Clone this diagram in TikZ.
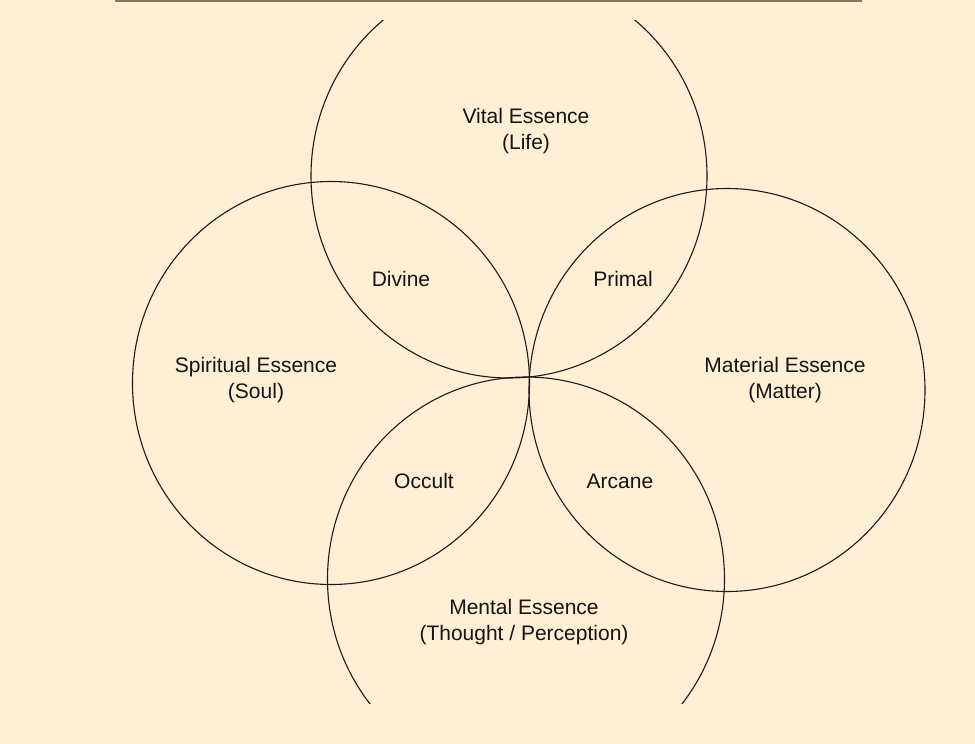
\documentclass[tikz,border=0pt]{standalone}
\usepackage{fontspec}
\setmainfont{Liberation Sans}
\definecolor{bgcream}{HTML}{FFEFD5}
\definecolor{topedge}{HTML}{8A7658}
\definecolor{ringcol}{HTML}{1E1A16}
\definecolor{txtcol}{HTML}{141414}
\begin{document}
\begin{tikzpicture}[x=1pt,y=-1pt,
  ring/.style={draw=ringcol,line width=1.1pt},
  lbl/.style={text=txtcol,align=center,inner sep=0pt,font=\fontsize{21}{26}\selectfont}]
\fill[bgcream] (0,0) rectangle (975,744);
\useasboundingbox (0,0) rectangle (975,744);
\coordinate (tl) at (115,0.8);
\coordinate (tr) at (862,0.8);
\draw[topedge,line width=1.8pt] (tl) -- (tr);
\begin{scope}
\clip (0,20) rectangle (975,703);
\draw[ring] (509,176) ellipse [x radius=198pt, y radius=202pt];
\draw[ring] (331,383) ellipse [x radius=198.5pt, y radius=201.5pt];
\draw[ring] (727,390) ellipse [x radius=198pt, y radius=201.5pt];
\draw[ring] (526,579) ellipse [x radius=198.5pt, y radius=202pt];
\end{scope}
\node[lbl] (vital) at (526,131) {Vital Essence\\(Life)};
\node[lbl] (spirit) at (256,380) {Spiritual Essence\\(Soul)};
\node[lbl] (matter) at (785,380) {Material Essence\\(Matter)};
\node[lbl] (mental) at (524,622) {Mental Essence\\(Thought / Perception)};
\node[lbl] (divine) at (401,279) {Divine};
\node[lbl] (primal) at (623,279) {Primal};
\node[lbl] (occult) at (424,481) {Occult};
\node[lbl] (arcane) at (620,481) {Arcane};
\end{tikzpicture}
\end{document}
